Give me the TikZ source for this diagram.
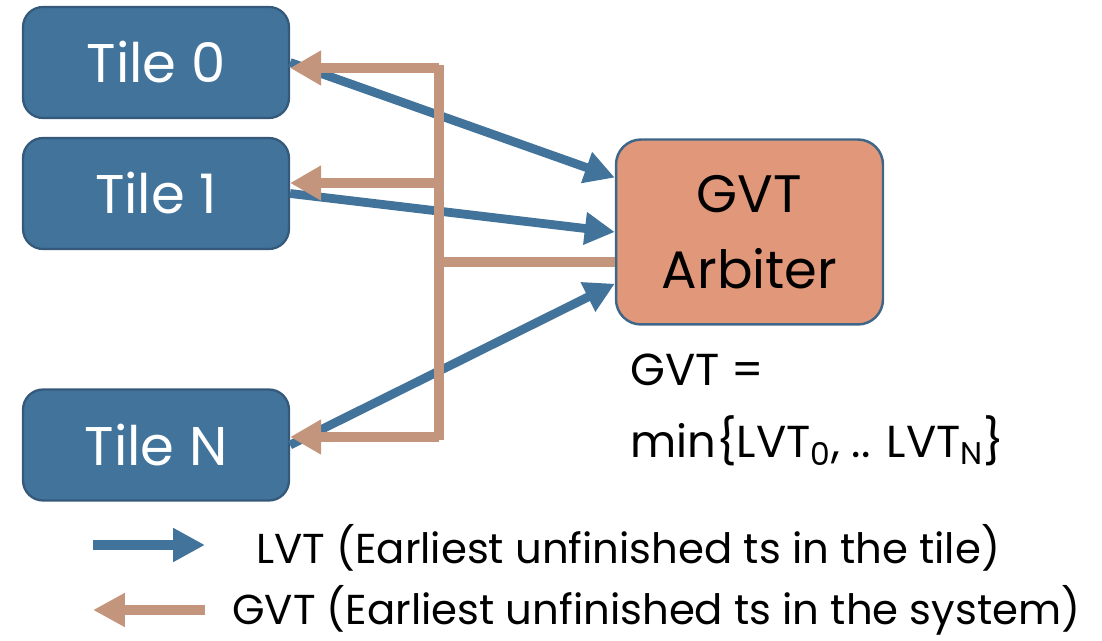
\documentclass[tikz,border=0pt]{standalone}
\usepackage{fontspec}
\setmainfont{Poppins}
\usetikzlibrary{arrows.meta}
\definecolor{tileblue}{HTML}{41739B}
\definecolor{tileedge}{HTML}{35597A}
\definecolor{gvtbrown}{HTML}{C4957D}
\definecolor{arbfill}{HTML}{E0977A}
\definecolor{arbedge}{HTML}{3E6689}
\tikzset{
  tile/.style={draw=tileedge, fill=tileblue, line width=1.3pt, rounded corners=0.4cm,
    minimum width=5.32cm, minimum height=2.22cm, text=white, font=\fontsize{31}{36}\selectfont},
  arbiter/.style={draw=arbedge, fill=arbfill, line width=1.4pt, rounded corners=0.5cm,
    minimum width=5.34cm, minimum height=3.7cm, align=center, font=\fontsize{30}{43}\selectfont},
  lvt/.style={draw=tileblue, line width=5pt, -{Triangle[length=0.6cm, width=0.62cm]}},
  gvt/.style={draw=gvtbrown, line width=5.5pt, -{Triangle[length=0.62cm, width=0.66cm]}},
  gvtbus/.style={draw=gvtbrown, line width=5.5pt},
  keytip/.style={line width=6pt, -{Triangle[length=0.64cm, width=0.64cm]}},
  key/.style={anchor=west, font=\fontsize{23.8}{28}\selectfont}
}
\begin{document}
\begin{tikzpicture}[x=0.02cm, y=-0.02cm]
\useasboundingbox (0,0) rectangle (1102,641);
\node[tile] (t0) at (156,62.5) {Tile 0};
\node[tile] (t1) at (156,193.5) {Tile 1};
\node[tile] (tN) at (156,445) {Tile N};
\node[arbiter] (arb) at (749.5,232) {GVT\\Arbiter};
\node[anchor=north west, align=left, font=\fontsize{25.5}{41}\selectfont] (eq) at (624,348) {GVT =\\min\{LVT\textsubscript{0}, .. LVT\textsubscript{N}\}};
% lvt arrows
\draw [lvt] (t0.east) -- (arb.158);
\draw [lvt] (t1.east) -- (arb.west);
\draw [lvt] (tN.east) -- (arb.201);
% gvt bus
\coordinate (b0) at (439,68);
\coordinate (b1) at (439,183);
\coordinate (bA) at (439,262);
\coordinate (bN) at (439,437);
\draw [gvtbus] (439,65) -- (439,440);
\draw [gvtbus] (arb.west |- bA) -- (bA);
\draw [gvt] (b0) -- (b0 -| t0.east);
\draw [gvt] (b1) -- (b1 -| t1.east);
\draw [gvt] (bN) -- (bN -| tN.east);
% legend
\node[key] (lvtkey) at (250,548) {LVT (Earliest unfinished ts in the tile)};
\node[key] (gvtkey) at (226,610) {GVT (Earliest unfinished ts in the system)};
\coordinate (l0) at (93,545);
\coordinate (g0) at (205,610);
\draw [lvt, keytip] (l0) -- (205,545);
\draw [gvt, keytip] (g0) -- (93,610);
\end{tikzpicture}
\end{document}
